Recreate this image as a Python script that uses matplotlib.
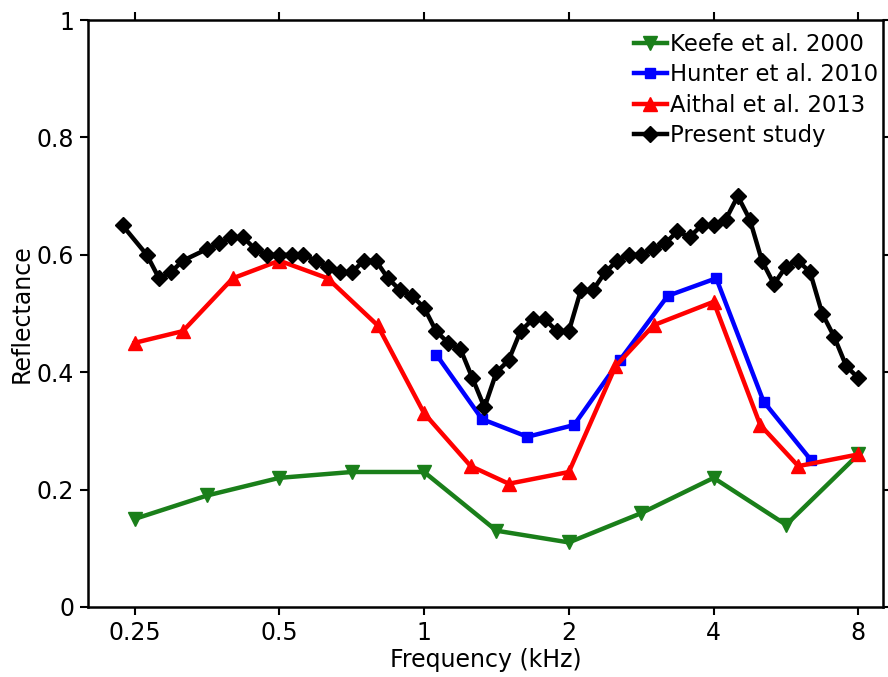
import matplotlib
matplotlib.use("Agg")
import matplotlib.pyplot as plt
from matplotlib.ticker import FixedLocator, FixedFormatter, NullLocator

# ---- data ----
keefe_f = [0.25, 0.354, 0.5, 0.707, 1.0, 1.414, 2.0, 2.83, 4.0, 5.66, 8.0]
keefe_r = [0.15, 0.19, 0.22, 0.23, 0.23, 0.13, 0.11, 0.16, 0.22, 0.14, 0.26]

hunter_f = [1.06, 1.32, 1.64, 2.05, 2.55, 3.21, 4.05, 5.08, 6.38]
hunter_r = [0.43, 0.32, 0.29, 0.31, 0.42, 0.53, 0.56, 0.35, 0.25]

aithal_f = [0.25, 0.315, 0.4, 0.5, 0.63, 0.8, 1.0, 1.25, 1.5, 2.0, 2.5, 3.0, 4.0, 5.0, 6.0, 8.0]
aithal_r = [0.45, 0.47, 0.56, 0.59, 0.56, 0.48, 0.33, 0.24, 0.21, 0.23, 0.41, 0.48, 0.52, 0.31, 0.24, 0.26]

present_f = [0.236, 0.265, 0.281, 0.297, 0.315, 0.354, 0.375, 0.397, 0.420, 0.445,
             0.472, 0.500, 0.530, 0.561, 0.595, 0.630, 0.667, 0.707, 0.749, 0.794,
             0.841, 0.891, 0.944, 1.000, 1.059, 1.122, 1.189, 1.260, 1.335, 1.414,
             1.498, 1.587, 1.682, 1.782, 1.888, 2.000, 2.119, 2.245, 2.378, 2.520,
             2.670, 2.828, 2.997, 3.175, 3.364, 3.564, 3.775, 4.000, 4.238, 4.490,
             4.757, 5.040, 5.339, 5.657, 5.993, 6.350, 6.727, 7.127, 7.551, 8.000]
present_r = [0.65, 0.60, 0.56, 0.57, 0.59, 0.61, 0.62, 0.63, 0.63, 0.61,
             0.60, 0.60, 0.60, 0.60, 0.59, 0.58, 0.57, 0.57, 0.59, 0.59,
             0.56, 0.54, 0.53, 0.51, 0.47, 0.45, 0.44, 0.39, 0.34, 0.40,
             0.42, 0.47, 0.49, 0.49, 0.47, 0.47, 0.54, 0.54, 0.57, 0.59,
             0.60, 0.60, 0.61, 0.62, 0.64, 0.63, 0.65, 0.65, 0.66, 0.70,
             0.66, 0.59, 0.55, 0.58, 0.59, 0.57, 0.50, 0.46, 0.41, 0.39]

xticks = [0.25, 0.5, 1, 2, 4, 8]
xtick_labels = ["0.25", "0.5", "1", "2", "4", "8"]
yticks = [0, 0.2, 0.4, 0.6, 0.8, 1.0]
ytick_labels = ["0", "0.2", "0.4", "0.6", "0.8", "1"]

plt.rcParams['font.family'] = ['DejaVu Sans']
fs = 17

fig = plt.figure(figsize=(8.88, 6.77), dpi=100)
ax = fig.add_axes([88/888, 1 - 607/677, (883 - 88)/888, (607 - 20)/677])

lw = 3.2
ax.plot(keefe_f, keefe_r, color='#1a7f1a', marker='v', markersize=10, lw=lw, label='Keefe et al. 2000')
ax.plot(hunter_f, hunter_r, color='#0000ff', marker='s', markersize=7.5, lw=lw, label='Hunter et al. 2010')
ax.plot(aithal_f, aithal_r, color='#ff0000', marker='^', markersize=10, lw=lw, label='Aithal et al. 2013')
ax.plot(present_f, present_r, color='black', marker='D', markersize=8, lw=lw, label='Present study')

ax.set_xscale('log')
ax.set_xlim(0.2, 9.0)
ax.set_ylim(0, 1)
ax.xaxis.set_major_locator(FixedLocator(xticks))
ax.xaxis.set_major_formatter(FixedFormatter(xtick_labels))
ax.xaxis.set_minor_locator(NullLocator())
ax.set_yticks(yticks)
ax.set_yticklabels(ytick_labels)

ax.tick_params(axis='both', which='major', direction='out', length=6, width=1.5,
               labelsize=fs, top=True, right=True, pad=4)
for s in ax.spines.values():
    s.set_linewidth(1.8)

ax.set_xlabel('Frequency (kHz)', fontsize=fs, labelpad=2)
ax.set_ylabel('Reflectance', fontsize=fs, labelpad=2)

leg = ax.legend(loc='upper right', bbox_to_anchor=(1.01, 1.0), fontsize=16.4, frameon=False,
                handlelength=1.45, handletextpad=0.15, labelspacing=0.33,
                borderaxespad=0.35, borderpad=0.2)

fig.savefig('out.png', dpi=100)
